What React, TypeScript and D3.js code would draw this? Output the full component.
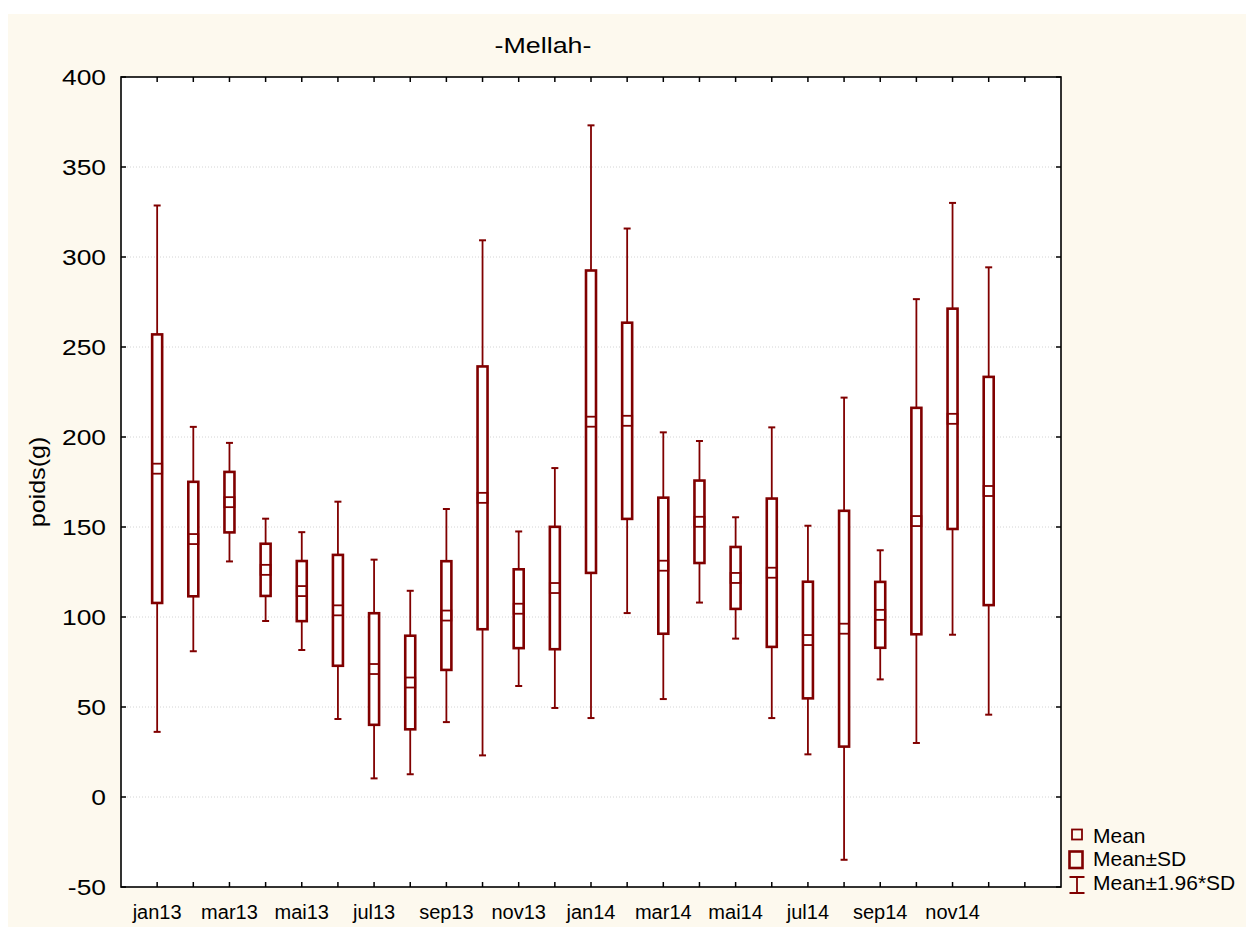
import React from "react";
import * as d3 from "d3";

// Monthly body weight (g) at Mellah: mean and standard deviation per month
const months = [
  "jan13", "fev13", "mar13", "avr13", "mai13", "jun13", "jul13", "aou13", "sep13", "oct13", "nov13", "dec13",
  "jan14", "fev14", "mar14", "avr14", "mai14", "jun14", "jul14", "aou14", "sep14", "oct14", "nov14", "dec14",
];
const means = [
  182.4, 143.3, 163.8, 126.2, 114.4, 103.7, 71.1, 63.6, 100.8, 166.2, 104.6, 116.1,
  208.5, 209.0, 128.5, 152.9, 121.7, 124.6, 87.2, 93.5, 101.2, 153.3, 210.1, 170.0,
];
const sds = [
  74.6, 31.8, 16.8, 14.5, 16.7, 30.8, 31.0, 26.0, 30.2, 73.0, 21.9, 34.0,
  84.0, 54.5, 37.8, 22.9, 17.2, 41.2, 32.4, 65.5, 18.3, 62.9, 61.2, 63.4,
];
const yTicks = [-50, 0, 50, 100, 150, 200, 250, 300, 350, 400];
const Z = 1.96;

const W = 1246;
const H = 927;
const M = { left: 121, right: 1061, top: 77, bottom: 887 };
const RED = "#800000";
const BG = "#fdf9ee";
const FONT = "'Liberation Sans', Arial, sans-serif";

export default function App() {
  // one slot per month plus an empty trailing slot
  const nSlots = months.length + 2;
  const x = d3.scaleLinear().domain([0, nSlots]).range([M.left, M.right]);
  const y = d3.scaleLinear().domain([-50, 400]).range([M.bottom, M.top]);
  const tickSlots = d3.range(1, months.length + 2);

  const boxW = 10;
  const capW = 7;
  const meanH = 10;

  return (
    <svg
      width={W}
      height={H}
      style={{ position: "absolute", left: 0, top: 0, display: "block" }}
      fontFamily={FONT}
    >
      <rect x={0} y={0} width={W} height={H} fill="#ffffff" />
      <rect x={8} y={14} width={W - 8} height={H - 14} fill={BG} />
      <rect
        x={M.left}
        y={M.top}
        width={M.right - M.left}
        height={M.bottom - M.top}
        fill="#ffffff"
      />

      {/* horizontal grid */}
      {yTicks
        .filter((t) => t > -50 && t < 400)
        .map((t) => (
          <line
            key={"g" + t}
            x1={M.left}
            x2={M.right}
            y1={y(t)}
            y2={y(t)}
            stroke="#d4d4d4"
            strokeWidth={1}
            strokeDasharray="1,2"
          />
        ))}

      {/* title */}
      <text
        transform="translate(543,53) scale(1.22,1)"
        fontSize={22}
        textAnchor="middle"
        fill="#000"
      >
        -Mellah-
      </text>

      {/* y axis label */}
      <text
        transform={`translate(45,${(M.top + M.bottom) / 2}) rotate(-90) scale(1.14,1)`}
        fontSize={22}
        textAnchor="middle"
        fill="#000"
      >
        poids(g)
      </text>

      {/* y tick labels and ticks on both sides */}
      {yTicks.map((t) => (
        <g key={"y" + t}>
          <text
            transform={`translate(106,${y(t) + 8}) scale(1.2,1)`}
            fontSize={22}
            textAnchor="end"
            fill="#000"
          >
            {t}
          </text>
          <line x1={M.left} x2={M.left + 5} y1={y(t)} y2={y(t)} stroke="#000" strokeWidth={1.5} />
          <line x1={M.right - 5} x2={M.right} y1={y(t)} y2={y(t)} stroke="#000" strokeWidth={1.5} />
        </g>
      ))}

      {/* x ticks top and bottom */}
      {tickSlots.map((s) => (
        <g key={"x" + s}>
          <line x1={x(s)} x2={x(s)} y1={M.bottom} y2={M.bottom - 5} stroke="#000" strokeWidth={1.5} />
          <line x1={x(s)} x2={x(s)} y1={M.top} y2={M.top + 5} stroke="#000" strokeWidth={1.5} />
        </g>
      ))}

      {/* x tick labels, every other month */}
      {months.map((m, i) =>
        i % 2 === 0 ? (
          <text key={"xl" + m} x={x(i + 1)} y={919} fontSize={20} textAnchor="middle" fill="#000">
            {m}
          </text>
        ) : null
      )}

      {/* boxes */}
      {months.map((m, i) => {
        const cx = x(i + 1);
        const mu = means[i];
        const sd = sds[i];
        const wTop = y(mu + Z * sd);
        const wBot = y(mu - Z * sd);
        const bTop = y(mu + sd);
        const bBot = y(mu - sd);
        const ym = y(mu);
        return (
          <g key={"b" + m}>
            <line x1={cx} x2={cx} y1={wTop} y2={bTop} stroke={RED} strokeWidth={1.8} />
            <line x1={cx} x2={cx} y1={bBot} y2={wBot} stroke={RED} strokeWidth={1.8} />
            <line x1={cx - capW / 2} x2={cx + capW / 2} y1={wTop} y2={wTop} stroke={RED} strokeWidth={2} />
            <line x1={cx - capW / 2} x2={cx + capW / 2} y1={wBot} y2={wBot} stroke={RED} strokeWidth={2} />
            <rect
              x={cx - boxW / 2}
              y={bTop}
              width={boxW}
              height={bBot - bTop}
              fill="#ffffff"
              stroke={RED}
              strokeWidth={2.6}
            />
            <rect
              x={cx - boxW / 2}
              y={ym - meanH / 2}
              width={boxW}
              height={meanH}
              fill="none"
              stroke={RED}
              strokeWidth={1.8}
            />
          </g>
        );
      })}

      {/* frame */}
      <rect
        x={M.left}
        y={M.top}
        width={M.right - M.left}
        height={M.bottom - M.top}
        fill="none"
        stroke="#000"
        strokeWidth={1.6}
      />

      {/* legend */}
      <g fontSize={21} fill="#000">
        <rect x={1072} y={829.5} width={10} height={10} fill="none" stroke={RED} strokeWidth={1.8} />
        <text x={1093} y={843}>Mean</text>
        <rect x={1069.5} y={851.5} width={13} height={16.5} fill="none" stroke={RED} strokeWidth={2.6} />
        <text x={1093} y={866}>Mean±SD</text>
        <line x1={1077} x2={1077} y1={877} y2={893} stroke={RED} strokeWidth={1.8} />
        <line x1={1069.5} x2={1084.5} y1={877} y2={877} stroke={RED} strokeWidth={2} />
        <line x1={1069.5} x2={1084.5} y1={893} y2={893} stroke={RED} strokeWidth={2} />
        <text x={1093} y={890}>Mean±1.96*SD</text>
      </g>
    </svg>
  );
}
